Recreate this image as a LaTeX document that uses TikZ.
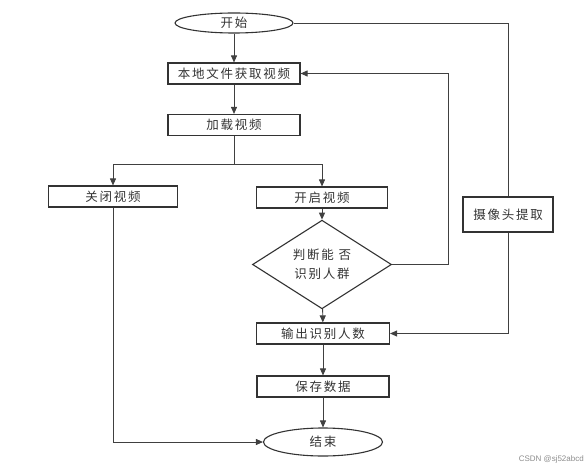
\documentclass[tikz,border=0pt]{standalone}
\usepackage{fontspec}
\setmainfont{Liberation Sans}
\newfontfamily\cjk[LetterSpace=14]{Noto Sans CJK SC}
\usetikzlibrary{shapes.geometric, arrows.meta}

\begin{document}
\begin{tikzpicture}[
    x=1pt, y=1pt,
    box/.style={
        draw=black!80, rectangle, line width=1.1pt,
        minimum width=132pt, minimum height=21pt, inner sep=0pt,
        text=black!80, font=\cjk\fontsize{12.5}{14}\selectfont
    },
    term/.style={box, ellipse},
    decide/.style={box, diamond, minimum width=139pt, minimum height=67pt, align=center,
                   font=\cjk\fontsize{12.5}{19}\selectfont},
    line/.style={draw, black!75, line width=0.9pt},
    arrow/.style={line, -{Triangle[length=7pt,width=6pt]}}
]
\useasboundingbox (0,0) rectangle (585,-470);

% ===== Main column =====
\node[term, minimum width=118pt, minimum height=20pt] (start) at (234,-23) {开始};
\node[box] (local) at (234,-73.5) {本地文件获取视频};
\node[box] (load)  at (234,-125) {加载视频};

% ===== Branches =====
\node[box, minimum width=129pt] (close) at (113,-196.5) {关闭视频};
\node[box, minimum width=131pt] (open)  at (322,-197.5) {开启视频};
\node[decide] (judge) at (322,-264.5) {判断能 否\\识别人群};
\node[box, minimum width=90pt, minimum height=35pt] (camera) at (508,-214.5) {摄像头提取};

% ===== Bottom =====
\node[box, minimum width=133pt] (output) at (323,-333.5) {输出识别人数};
\node[box] (save) at (323,-386.5) {保存数据};
\node[term, minimum width=119pt, minimum height=28pt] (stop) at (323,-442) {结束};

% connectors
\coordinate (split) at (234,-164);
\coordinate (back) at (448,-73.5);

\draw[arrow] (start) -- (local);
\draw[arrow] (local) -- (load);
\draw[line] (load) -- (split);
\draw[arrow] (split) -| (close);
\draw[arrow] (split) -| (open);
\draw[arrow] (open) -- (judge);
\draw[arrow] (judge) -- (output);
\draw[arrow] (judge.east) -| (back) -- (local.east);
\draw[line] (start.east) -| (camera.north);
\draw[arrow] (camera.south) |- (output.east);
\draw[arrow] (output) -- (save);
\draw[arrow] (save) -- (stop);
\draw[arrow] (close.south) |- (stop.west);

% watermark
\node[text=black!45, font=\fontsize{8}{9}\selectfont, anchor=east, inner sep=0pt] (mark) at (584,-459) {CSDN @sj52abcd};

\end{tikzpicture}
\end{document}
